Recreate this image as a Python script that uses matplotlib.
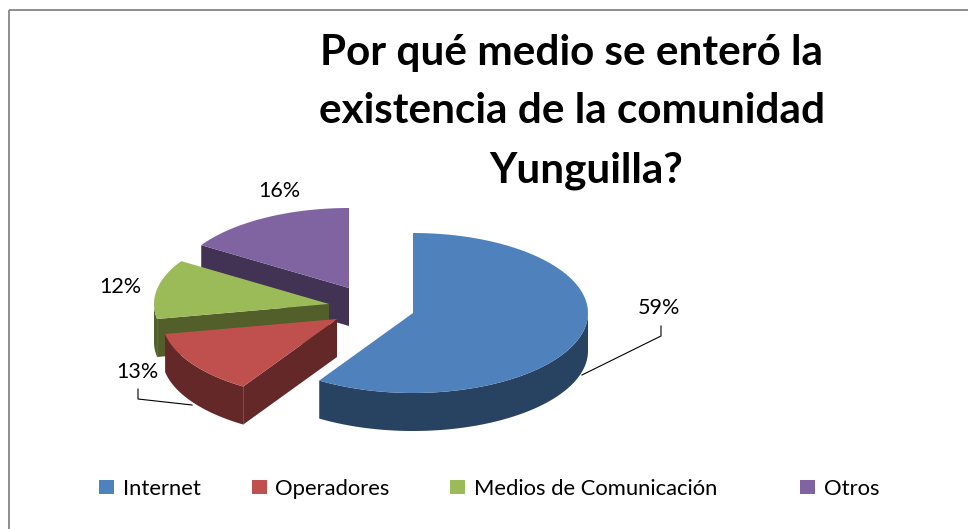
import numpy as np
import matplotlib
matplotlib.use("Agg")
import matplotlib.pyplot as plt
from matplotlib.patches import Polygon, Rectangle

# Data
categories = ["Internet", "Operadores", "Medios de Comunicación", "Otros"]
values = [59, 13, 12, 16]
labels = ["59%", "13%", "12%", "16%"]
title_lines = ["Por qué medio se enteró la", "existencia de la comunidad", "Yunguilla?"]

top_colors = ["#4F81BD", "#C0504D", "#9BBB59", "#8064A2"]
side_colors = ["#284261", "#632827", "#525F2B", "#423355"]

# Pie geometry, in pixels of the picture
apex = [(413, 313), (337, 319), (329, 304), (349, 288)]
rx, ry = 175, 80
depth = 38

W, H = 968, 529
plt.rcParams["font.family"] = ["Lato", "DejaVu Sans"]
fig = plt.figure(figsize=(W / 100, H / 100), dpi=100)
ax = fig.add_axes([0, 0, 1, 1])
ax.set_xlim(0, W)
ax.set_ylim(H, 0)
ax.axis("off")


def rim(c, a0, a1, n=80):
    # points on the ellipse, angles clockwise from 12 o'clock
    t = np.radians(np.linspace(a0, a1, n))
    return np.column_stack([c[0] + rx * np.sin(t), c[1] - ry * np.cos(t)])


# outer frame, right and bottom sides fall outside the picture
ax.add_patch(Rectangle((8.5, 9.5), 975, 535, fill=False, ec="#868686", lw=1.3))

# Wedges, back to front
edges = np.cumsum([0] + values) * 3.6
for i in [3, 2, 1, 0]:
    c = apex[i]
    a0, a1 = edges[i], edges[i + 1]
    z = (3 - i) * 3
    # radial face
    if 180 <= a0 < 360:
        p = rim(c, a0, a0, 1)[0]
        ax.add_patch(Polygon([c, p, (p[0], p[1] + depth), (c[0], c[1] + depth)],
                             fc=side_colors[i], ec="none", zorder=2 + z))
    # outer face, only the part that looks to the front
    lo, hi = max(a0, 90), min(a1, 270)
    if lo < hi:
        arc = rim(c, lo, hi)
        low = arc + [0, depth]
        ax.add_patch(Polygon(np.vstack([arc, low[::-1]]),
                             fc=side_colors[i], ec="none", zorder=3 + z))
    # top
    ax.add_patch(Polygon(np.vstack([[c], rim(c, a0, a1)]),
                         fc=top_colors[i], ec="none", zorder=4 + z))

# Title
title_x = [572, 572, 586]
title_y = [65, 123, 182]
for line, x, y in zip(title_lines, title_x, title_y):
    ax.text(x, y, line, ha="center", va="baseline", fontsize=30.4,
            fontweight="bold", color="black", zorder=20)

# Data labels
label_pos = [(659, 308), (137, 372), (120, 287), (279, 191)]
for lab, pos in zip(labels, label_pos):
    ax.text(pos[0], pos[1], lab, ha="center", va="center", fontsize=15.5, color="black", zorder=20)

# Leader lines
ax.plot([582, 661, 661], [375, 336, 326], color="black", lw=0.8, zorder=19)
ax.plot([138, 138, 192], [389, 399, 405], color="black", lw=0.8, zorder=19)

# Legend
square_x = [99, 252, 450, 800]
text_x = [123, 275, 474, 824]
for i, name in enumerate(categories):
    ax.add_patch(Rectangle((square_x[i], 480), 15, 14, fc=top_colors[i], ec="none"))
    ax.text(text_x[i], 489, name, ha="left", va="center", fontsize=15.8, color="black")

fig.savefig("out.png", dpi=100)
